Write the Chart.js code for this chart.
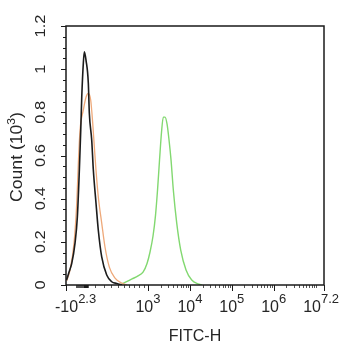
<!DOCTYPE html>
<html>
<head>
<meta charset="utf-8">
<script src="https://cdn.jsdelivr.net/npm/chart.js@4.4.1/dist/chart.umd.min.js"></script>
<style>
  html, body { margin: 0; padding: 0; background: #fff; }
  canvas { display: block; }
</style>
</head>
<body>
<canvas id="c" width="342" height="350"></canvas>
<script>
// FITC-H intensity (x) and event count in thousands (y) for each histogram
const blackX = [-194, -169, -142, -109, -86, -66, -52, -42, -26, -16, 1, 24, 34.5, 60, 78, 108, 135, 177, 242, 312, 387, 472];
const blackY = [0.023, 0.06, 0.10, 0.195, 0.315, 0.533, 0.718, 0.871, 1.03, 1.08, 1.04, 0.936, 0.797, 0.672, 0.533, 0.38, 0.255, 0.13, 0.046, 0.015, 0.007, 0];

const orangeX = [-192, -159, -119, -92, -76, -59, -26, 1, 24, 49, 71, 89, 108, 135, 177, 219, 278, 361, 468, 554];
const orangeY = [0.019, 0.07, 0.195, 0.38, 0.565, 0.718, 0.811, 0.871, 0.888, 0.857, 0.75, 0.641, 0.533, 0.409, 0.287, 0.176, 0.083, 0.032, 0.009, 0];

const greenX = [440, 542, 653, 774, 884, 977, 1119, 1319, 1514, 1690, 1886, 2105, 2323, 2551, 2847, 3178, 3547, 4025, 4852, 6045, 8089, 11064, 15639, 19489];
const greenY = [0, 0.014, 0.028, 0.042, 0.06, 0.10, 0.153, 0.227, 0.324, 0.44, 0.579, 0.709, 0.778, 0.778, 0.746, 0.672, 0.58, 0.44, 0.287, 0.162, 0.07, 0.023, 0.005, 0];

// Axis ticks
const yTickValues = [0, 0.2, 0.4, 0.6, 0.8, 1, 1.2];
const yTickLabels = ['0', '0.2', '0.4', '0.6', '0.8', '1', '1.2'];
const xTickValues = [-199.5, 1e3, 1e4, 1e5, 1e6, 1.585e7];
const xTickLabels = [['-10', '2.3'], ['10', '3'], ['10', '4'], ['10', '5'], ['10', '6'], ['10', '7.2']];
const xMinorNear = [-100, -90, -80, -70, -60, -50, -40, -30, -20, -10, 0, 10, 20, 100];

// Biexponential display transform: linear below zero, compressed up to 1e3, log10 above.
const ZERO_D = 1.52, LIN_SLOPE = 0.002387, W = 700;
function biex(v) {
  if (v >= 1000) return Math.log10(v);
  if (v >= 0) return ZERO_D + (3 - ZERO_D) * Math.log(1 + v / W) / Math.log(1 + 1000 / W);
  return ZERO_D + v * LIN_SLOPE;
}
function biexInv(d) {
  if (d >= 3) return Math.pow(10, d);
  if (d >= ZERO_D) return W * (Math.pow(1 + 1000 / W, (d - ZERO_D) / (3 - ZERO_D)) - 1);
  return (d - ZERO_D) / LIN_SLOPE;
}

const LinearScale = Chart.LinearScale || Chart.registry.getScale('linear');
class BiexScale extends LinearScale {
  getPixelForValue(value) {
    const a = biex(this.min), b = biex(this.max);
    return this.getPixelForDecimal((biex(value) - a) / (b - a));
  }
  getValueForPixel(pixel) {
    const a = biex(this.min), b = biex(this.max);
    return biexInv(a + this.getDecimalForPixel(pixel) * (b - a));
  }
}
BiexScale.id = 'biex';
BiexScale.defaults = LinearScale.defaults;
Chart.register(BiexScale);

const pts = (xs, ys) => xs.map((x, i) => ({ x, y: ys[i] }));

const FONT = '"Liberation Sans", Arial, sans-serif';
const TEXT = '#262626';

function drawParts(ctx, parts, x, y) {
  // parts: [text, size, baselineShift]
  let total = 0;
  for (const [t, s] of parts) { ctx.font = s + 'px ' + FONT; total += ctx.measureText(t).width; }
  let cx = x - total / 2;
  ctx.textAlign = 'left';
  ctx.textBaseline = 'alphabetic';
  for (const [t, s, dy] of parts) {
    ctx.font = s + 'px ' + FONT;
    ctx.fillText(t, cx, y + dy);
    cx += ctx.measureText(t).width;
  }
  return total;
}

const axesPlugin = {
  id: 'flowAxes',
  afterDraw(chart) {
    const { ctx, chartArea: a, scales: { x, y } } = chart;
    ctx.save();
    ctx.strokeStyle = '#1a1a1a';

    // y ticks: majors and quarter-step minors
    ctx.lineWidth = 1;
    for (let i = 0; i < yTickValues.length; i++) {
      const py = Math.round(y.getPixelForValue(yTickValues[i])) + 0.5;
      ctx.beginPath(); ctx.moveTo(a.left - 5, py); ctx.lineTo(a.left, py); ctx.stroke();
      if (i < yTickValues.length - 1) {
        const step = (yTickValues[i + 1] - yTickValues[i]) / 4;
        for (let k = 1; k < 4; k++) {
          const my = Math.round(y.getPixelForValue(yTickValues[i] + k * step)) + 0.5;
          ctx.beginPath(); ctx.moveTo(a.left - 3, my); ctx.lineTo(a.left, my); ctx.stroke();
        }
      }
    }

    // x ticks: majors, dense near-zero minors, per-decade minors
    const minorX = xMinorNear.slice();
    for (let dec = 100; dec <= 1e7; dec *= 10) {
      for (let m = 2; m <= 9; m++) if (dec * m < 1.585e7 && dec * m > 100) minorX.push(dec * m);
    }
    minorX.push(1e7);
    ctx.strokeStyle = '#555';
    for (const v of minorX) {
      const px = Math.round(x.getPixelForValue(v)) + 0.5;
      ctx.beginPath(); ctx.moveTo(px, a.bottom); ctx.lineTo(px, a.bottom + 3); ctx.stroke();
    }
    ctx.strokeStyle = '#1a1a1a';
    for (const v of xTickValues) {
      const px = Math.round(x.getPixelForValue(v)) + 0.5;
      ctx.beginPath(); ctx.moveTo(px, a.bottom); ctx.lineTo(px, a.bottom + 6); ctx.stroke();
    }
    const pz = Math.round(x.getPixelForValue(0));
    ctx.fillStyle = '#1a1a1a';
    ctx.fillRect(pz - 2, a.bottom, 4, 3);

    // frame
    ctx.lineWidth = 1.5;
    ctx.strokeRect(a.left, a.top, a.right - a.left, a.bottom - a.top);

    // y tick labels, rotated
    ctx.fillStyle = TEXT;
    for (let i = 0; i < yTickValues.length; i++) {
      const py = y.getPixelForValue(yTickValues[i]);
      ctx.save();
      ctx.translate(45, py);
      ctx.rotate(-Math.PI / 2);
      ctx.scale(1.1, 1);
      ctx.font = '15px ' + FONT;
      ctx.textAlign = 'center';
      ctx.textBaseline = 'alphabetic';
      ctx.fillText(yTickLabels[i], 0, 0);
      ctx.restore();
    }

    // x tick labels with exponents, kept inside the canvas margins
    for (let i = 0; i < xTickValues.length; i++) {
      const px = x.getPixelForValue(xTickValues[i]);
      const [base, exp] = xTickLabels[i];
      ctx.font = '16px ' + FONT;
      let w = ctx.measureText(base).width;
      ctx.font = '13px ' + FONT;
      w += ctx.measureText(exp).width;
      let cx = px;
      if (cx - w / 2 < 55) cx = 55 + w / 2;
      if (cx + w / 2 > chart.width - 3) cx = chart.width - 3 - w / 2;
      drawParts(ctx, [[base, 16, 0], [exp, 13, -8.5]], cx, 311.5);
    }

    // axis titles
    drawParts(ctx, [['FITC-H', 16, 0]], 195, 341);
    ctx.save();
    ctx.translate(22, 157);
    ctx.rotate(-Math.PI / 2);
    ctx.scale(1.1, 1);
    drawParts(ctx, [['Count (10', 16, 0], ['3', 11, -7], [')', 16, 0]], 0, 0);
    ctx.restore();

    ctx.restore();
  }
};

new Chart(document.getElementById('c'), {
  type: 'line',
  data: {
    datasets: [
      { label: 'Isotype', data: pts(blackX, blackY), borderColor: '#1c1c1c', borderWidth: 1.6 },
      { label: 'Unstained', data: pts(orangeX, orangeY), borderColor: '#eea97a', borderWidth: 1.3 },
      { label: 'FITC', data: pts(greenX, greenY), borderColor: '#82d870', borderWidth: 1.4 }
    ]
  },
  options: {
    responsive: false,
    animation: false,
    events: [],
    layout: { padding: { left: 66, top: 26, right: 18, bottom: 65 } },
    elements: {
      point: { radius: 0 },
      line: { cubicInterpolationMode: 'monotone', fill: false }
    },
    plugins: { legend: { display: false }, tooltip: { enabled: false } },
    scales: {
      x: { type: 'biex', min: -199.5, max: 1.585e7, display: false },
      y: { type: 'linear', min: 0, max: 1.2, display: false }
    }
  },
  plugins: [axesPlugin]
});
</script>
</body>
</html>
